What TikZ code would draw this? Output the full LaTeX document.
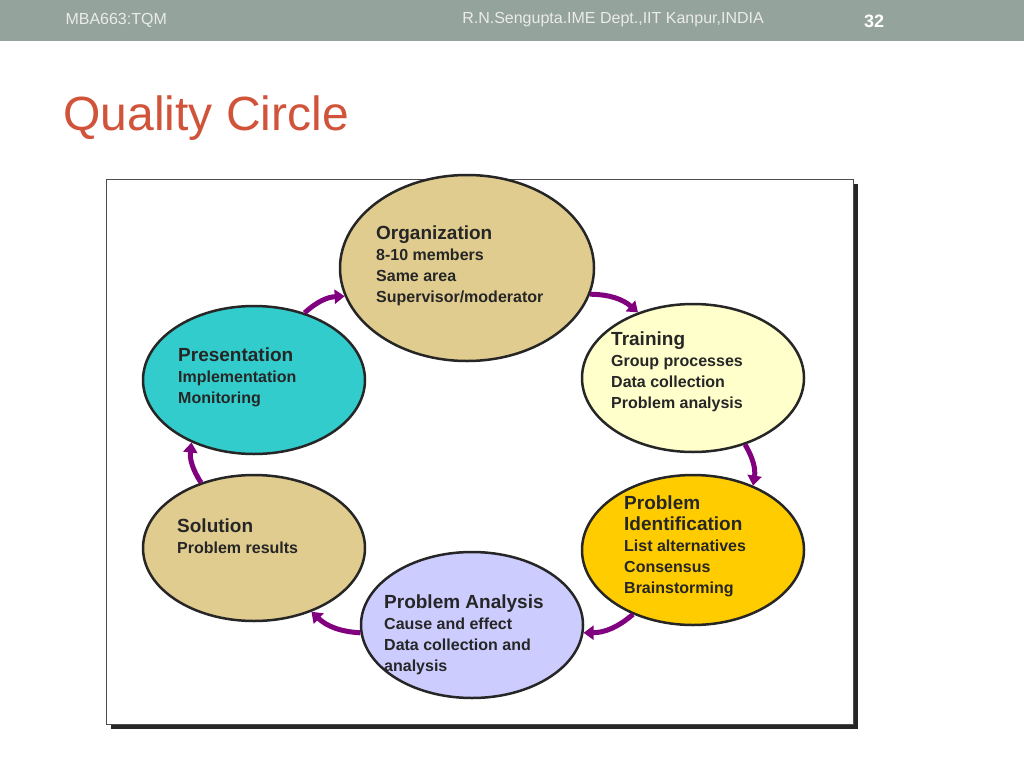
\documentclass[tikz,border=0pt]{standalone}
\usepackage{fontspec}
\setmainfont{Liberation Sans}
\usetikzlibrary{shapes.geometric,arrows.meta}
\definecolor{barcol}{HTML}{94A39B}
\definecolor{titlecol}{HTML}{D0533A}
\definecolor{sandcol}{HTML}{E0CC8F}
\definecolor{paleyel}{HTML}{FFFFCC}
\definecolor{goldcol}{HTML}{FFCC00}
\definecolor{lilac}{HTML}{CCCCFF}
\definecolor{cyancol}{HTML}{33CCCC}
\definecolor{loopcol}{HTML}{800080}
\newcommand{\hd}[1]{{\fontsize{19}{23}\selectfont #1}}

\begin{document}
\begin{tikzpicture}[x=1pt,y=-1pt]
\tikzstyle{stage}=[ellipse, line width=2.5pt, draw=black!85, inner sep=0pt]
\tikzstyle{txt}=[anchor=north west, align=left, inner sep=0pt, font=\bfseries\fontsize{16}{21}\selectfont, text=black!85]
\tikzstyle{connect}=[-{Triangle[length=10pt,width=14pt]}, line width=5pt, draw=loopcol, bend left=20]

	\useasboundingbox (0,0) rectangle (1024,768);
	\fill[white] (0,0) rectangle (1024,768);
	\fill[barcol] (0,0) rectangle (1024,41);
	\node[anchor=west, text=white!92!black, font=\fontsize{16}{16}\selectfont] (course) at (62,20) {MBA663:TQM};
	\node[text=white!92!black, font=\fontsize{16}{16}\selectfont] (dept) at (613,20) {R.N.Sengupta.IME Dept.,IIT Kanpur,INDIA};
	\node[text=white, font=\bfseries\fontsize{18}{18}\selectfont] (page) at (874,21) {32};
	\node[anchor=west, text=titlecol, font=\fontsize{48}{48}\selectfont] (title) at (60,118) {Quality Circle};

	% frame with shadow
	\fill[black!85] (111,184) rectangle (858,729);
	\filldraw[fill=white, draw=black!70, line width=1pt] (106,179) rectangle (853,724);

	\node[stage, fill=sandcol, minimum width=254pt, minimum height=186pt] (org) at (467,268) {};
	\node[stage, fill=paleyel, minimum width=222pt, minimum height=148pt] (train) at (693,378) {};
	\node[stage, fill=goldcol, minimum width=222pt, minimum height=150pt] (ident) at (693,550) {};
	\node[stage, fill=lilac, minimum width=222pt, minimum height=146pt] (anal) at (472,625) {};
	\node[stage, fill=sandcol, minimum width=222pt, minimum height=146pt] (sol) at (254,548) {};
	\node[stage, fill=cyancol, minimum width=222pt, minimum height=148pt] (pres) at (254,380) {};

	\node[txt] (org_t) at (376,226) {\hd{Organization}\\8-10 members\\Same area\\Supervisor/moderator};
	\node[txt] (train_t) at (611,332) {\hd{Training}\\Group processes\\Data collection\\Problem analysis};
	\node[txt] (ident_t) at (624,496) {\hd{Problem}\\\hd{Identification}\\List alternatives\\Consensus\\Brainstorming};
	\node[txt] (anal_t) at (384,595) {\hd{Problem Analysis}\\Cause and effect\\Data collection and\\analysis};
	\node[txt] (sol_t) at (177,519) {\hd{Solution}\\Problem results};
	\node[txt] (pres_t) at (178,348) {\hd{Presentation}\\Implementation\\Monitoring};

	\draw[connect] (org.-12) to (train.130);
	\draw[connect] (train.-52) to (ident.47);
	\draw[connect] (ident.-133) to (anal.-4);
	\draw[connect] (anal.184) to (sol.-48);
	\draw[connect] (sol.129) to (pres.-135);
	\draw[connect] (pres.53) to (org.193);
\end{tikzpicture}
\end{document}
